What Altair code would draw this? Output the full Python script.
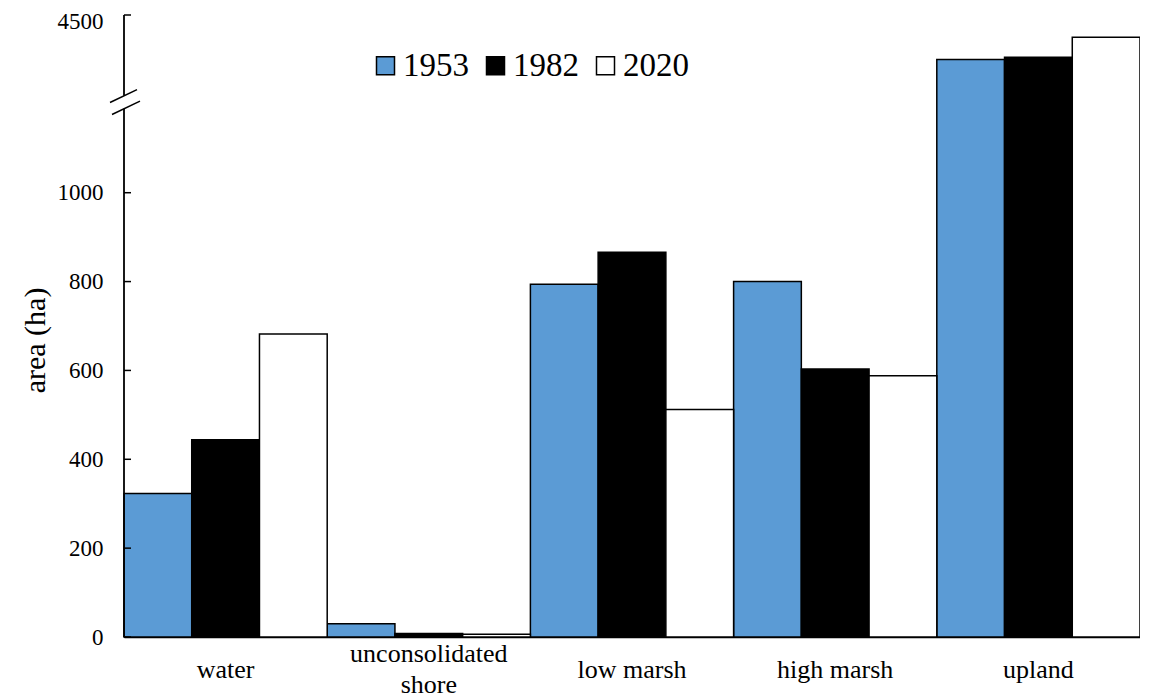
import altair as alt
import pandas as pd

categories = ["water", "unconsolidated shore", "low marsh", "high marsh", "upland"]
years = ["1953", "1982", "2020"]
area_1953 = [323, 30, 794, 800, 4400]
area_1982 = [444, 8, 866, 603, 4405]
area_2020 = [682, 6, 512, 588, 4450]
colors = ["#5B9BD5", "#000000", "#FFFFFF"]

# broken axis: values above the break are shifted down by OFFSET
OFFSET = 3100
BREAK = 2000
y_ticks = [0, 200, 400, 600, 800, 1000, 1400]   # 1400 shows as 4500
LOWER_END = 1189
UPPER_START = 1218
TOP = 1400

rows = []
for yr, vals in zip(years, [area_1953, area_1982, area_2020]):
    for c, v in zip(categories, vals):
        rows.append({"category": c, "year": yr, "area": v})
df = pd.DataFrame(rows)

FONT = "Liberation Serif"

bars = alt.Chart(df).transform_calculate(
    disp=f"datum.area > {BREAK} ? datum.area - {OFFSET} : datum.area"
).mark_bar(stroke="black", strokeWidth=1.5).encode(
    x=alt.X("category:N", sort=categories,
            scale=alt.Scale(paddingInner=0, paddingOuter=0),
            axis=alt.Axis(title=None, labelAngle=0, ticks=False, tickSize=0,
                          domainColor="black", domainWidth=1.5,
                          labelFont=FONT, labelFontSize=26, labelColor="black",
                          labelBaseline={"condition": {"test": "datum.label == 'unconsolidated shore'",
                                                       "value": "line-bottom"},
                                         "value": "middle"},
                          labelPadding=32, labelLineHeight=31,
                          labelExpr="datum.label == 'unconsolidated shore' ? ['unconsolidated', 'shore'] : datum.label")),
    xOffset=alt.XOffset("year:N", sort=years, scale=alt.Scale(paddingInner=0, paddingOuter=0)),
    y=alt.Y("disp:Q", scale=alt.Scale(domain=[0, TOP], nice=False, zero=True),
            axis=alt.Axis(title="area (ha)", values=y_ticks, domain=False, ticks=False,
                          tickSize=0, grid=False,
                          labelExpr=f"datum.value > 1200 ? format(datum.value + {OFFSET}, 'd') : format(datum.value, 'd')",
                          labelOffset={"condition": {"test": "datum.value > 1200", "value": 6},
                                       "value": 0},
                          labelFont=FONT, labelFontSize=23, labelColor="black", labelPadding=21,
                          titleFont=FONT, titleFontSize=30, titleFontWeight="normal",
                          titleColor="black", titleX=-89, titleY=325, titleBaseline="middle")),
    color=alt.Color("year:N", sort=years,
                    scale=alt.Scale(domain=years, range=colors),
                    legend=alt.Legend(title=None, orient="none", direction="horizontal",
                                      legendX=245, legendY=34, padding=0,
                                      symbolType="square", symbolSize=324,
                                      symbolStrokeColor="black", symbolStrokeWidth=1.5,
                                      labelFont=FONT, labelFontSize=33, labelColor="black",
                                      labelOffset=1, columnPadding=10)),
)

tick_df = pd.DataFrame({"t": y_ticks})
ticks = alt.Chart(tick_df).mark_rule(color="black", strokeWidth=1.5).encode(
    y=alt.Y("t:Q"), x=alt.value(0), x2=alt.value(7)
)

axis_lower = alt.Chart().mark_rule(color="black", strokeWidth=1.8).encode(
    x=alt.value(0), y=alt.datum(0), y2=alt.datum(LOWER_END)
)
axis_upper = alt.Chart().mark_rule(color="black", strokeWidth=1.8).encode(
    x=alt.value(0), y=alt.datum(UPPER_START), y2=alt.datum(TOP)
)
slash1 = alt.Chart().mark_rule(color="black", strokeWidth=1.5).encode(
    x=alt.value(-14), x2=alt.value(13), y=alt.datum(1203), y2=alt.datum(1232)
)
slash2 = alt.Chart().mark_rule(color="black", strokeWidth=1.5).encode(
    x=alt.value(-12), x2=alt.value(16), y=alt.datum(1176), y2=alt.datum(1206)
)

chart = alt.layer(bars, ticks, axis_lower, axis_upper, slash1, slash2).properties(
    width=1016, height=622,
    background="white",
    autosize=alt.AutoSizeParams(type="none"),
    padding={"left": 116, "top": 7, "right": 0, "bottom": 60},
).configure_view(strokeWidth=0)

chart.save("out.html", embed_options={"renderer": "svg", "actions": False})
